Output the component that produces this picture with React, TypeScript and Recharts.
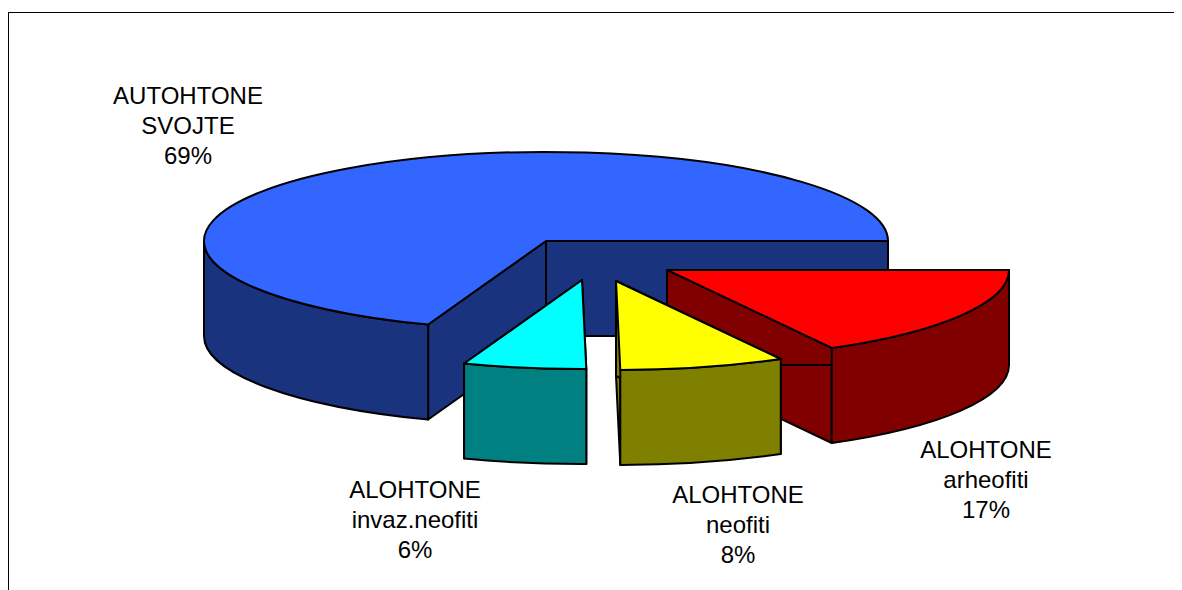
import { Pie, PieChart } from 'recharts';

// values are shares in percent, in drawing order (back to front)
const names = ['AUTOHTONE SVOJTE', 'ALOHTONE arheofiti', 'ALOHTONE neofiti', 'ALOHTONE invaz.neofiti'];
const values = [69.4, 17, 7.8, 5.8];
const labelLines = [['AUTOHTONE', 'SVOJTE'], ['ALOHTONE', 'arheofiti'], ['ALOHTONE', 'neofiti'], ['ALOHTONE', 'invaz.neofiti']];
const topColors = ['#3366ff', '#ff0000', '#ffff00', '#00ffff'];
const sideColors = ['#1a337f', '#800000', '#808000', '#008080'];
// how far each slice is pulled out of the pie, px
const explodeX = [0, 121, 70, 36];
const explodeY = [0, 29, 40, 39];
const labelX = [180, 978, 730, 407];
const labelY = [96, 450, 495, 490];

const data = names.map((name, i) => ({ name, value: values[i] }));

const WIDTH = 1174;
const HEIGHT = 582;
const CX = 538;
const CY = 233;
const RX = 342;
const SQUASH = 89 / 342;
const DEPTH = 95;

function Slice(props: any) {
  const { cx, cy, outerRadius, startAngle, endAngle, index } = props;
  const i = index ?? names.indexOf(props.name);
  const ox = cx + explodeX[i];
  const oy = cy + explodeY[i];
  const rx = outerRadius;
  const ry = outerRadius * SQUASH;
  const pt = (deg: number) => {
    const a = (deg * Math.PI) / 180;
    return [ox + rx * Math.cos(a), oy - ry * Math.sin(a)];
  };
  let hi = Math.max(startAngle, endAngle);
  let lo = Math.min(startAngle, endAngle);
  if (lo < -1) {
    hi += 360;
    lo += 360;
  }
  const [sx, sy] = pt(hi);
  const [ex, ey] = pt(lo);
  const large = hi - lo > 180 ? 1 : 0;
  const top = `M${ox},${oy} L${sx},${sy} A${rx},${ry} 0 ${large} 1 ${ex},${ey} Z`;
  const face = (deg: number) => {
    const [x, y] = pt(deg);
    return `M${ox},${oy} L${x},${y} L${x},${y + DEPTH} L${ox},${oy + DEPTH} Z`;
  };
  // only the front half of the rim can be seen
  const [ax, ay] = pt(Math.max(lo, 180));
  const rim = `M${sx},${sy} A${rx},${ry} 0 0 1 ${ax},${ay} L${ax},${ay + DEPTH} A${rx},${ry} 0 0 0 ${sx},${sy + DEPTH} Z`;
  const line = { stroke: '#000', strokeWidth: 2, strokeLinejoin: 'round' as const };
  return (
    <g>
      <path d={face(lo)} fill={sideColors[i]} {...line} />
      <path d={face(hi)} fill={sideColors[i]} {...line} />
      <path d={rim} fill={sideColors[i]} {...line} />
      <path d={top} fill={topColors[i]} {...line} />
    </g>
  );
}

function SliceLabel(props: any) {
  const i = props.index;
  return (
    <text x={labelX[i]} y={labelY[i]} textAnchor="middle" fontFamily="Liberation Sans" fontSize={24} fill="#000">
      {labelLines[i].map((t, k) => (
        <tspan key={k} x={labelX[i]} dy={k === 0 ? 0 : 30}>{t}</tspan>
      ))}
      <tspan x={labelX[i]} dy={30}>{Math.round(values[i])}%</tspan>
    </text>
  );
}

export default function App() {
  return (
    <div style={{ position: 'relative', width: WIDTH, height: HEIGHT }}>
      <div style={{ position: 'absolute', left: 0, top: 4, right: 0, bottom: 0, borderTop: '1px solid #000', borderLeft: '1px solid #000' }} />
      <PieChart width={WIDTH} height={HEIGHT} margin={{ top: 0, right: 0, bottom: 0, left: 0 }} style={{ position: 'absolute', left: 0, top: 0 }}>
        <Pie
          data={data}
          dataKey="value"
          nameKey="name"
          cx={CX}
          cy={CY}
          innerRadius={0}
          outerRadius={RX}
          startAngle={values[0] * 3.6}
          endAngle={values[0] * 3.6 - 360}
          stroke="none"
          label={SliceLabel}
          labelLine={false}
          shape={Slice}
          isAnimationActive={false}
        />
      </PieChart>
    </div>
  );
}
